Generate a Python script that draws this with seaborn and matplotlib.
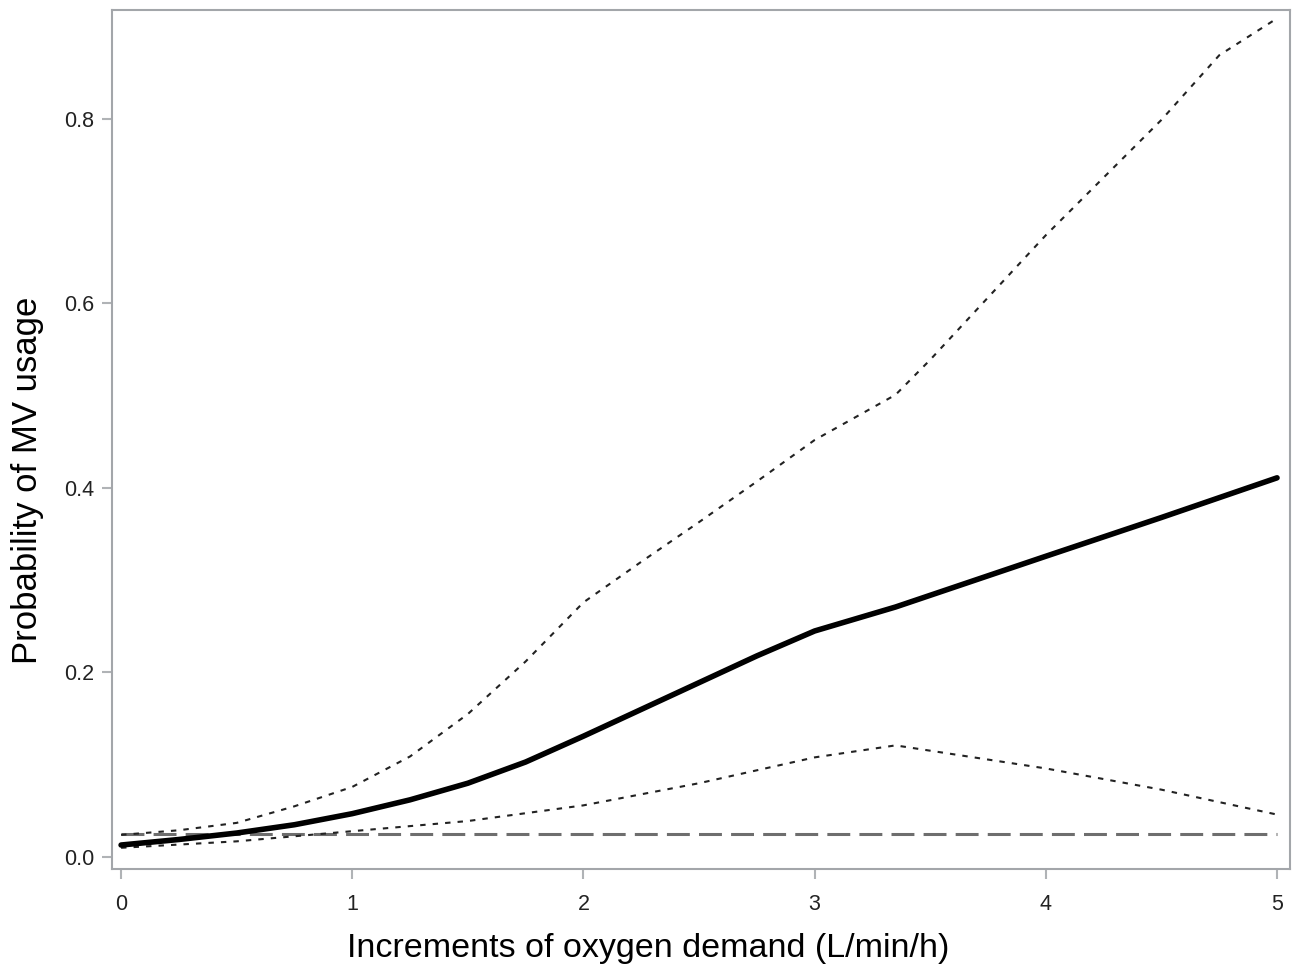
import numpy as np
import pandas as pd
import matplotlib
matplotlib.use("Agg")
import matplotlib.pyplot as plt
import seaborn as sns

# Data
x_est = [0.0, 0.25, 0.5, 0.75, 1.0, 1.25, 1.5, 1.75, 2.0, 2.25, 2.5, 2.75, 3.0, 3.35, 4.0, 4.5, 5.0]
y_est = [0.013, 0.019, 0.026, 0.035, 0.047, 0.062, 0.080, 0.103, 0.131, 0.160, 0.189, 0.218, 0.245, 0.271, 0.326, 0.368, 0.411]

x_upper = [0.0, 0.25, 0.5, 0.75, 1.0, 1.25, 1.5, 1.75, 2.0, 2.25, 2.5, 2.75, 3.0, 3.35, 3.5, 4.0, 4.5, 4.75, 5.0]
y_upper = [0.024, 0.029, 0.037, 0.055, 0.076, 0.109, 0.155, 0.212, 0.276, 0.320, 0.363, 0.407, 0.452, 0.501, 0.539, 0.674, 0.799, 0.869, 0.909]

x_lower = [0.0, 0.5, 1.0, 1.5, 2.0, 2.5, 3.0, 3.35, 4.0, 4.5, 5.0]
y_lower = [0.010, 0.017, 0.028, 0.039, 0.056, 0.080, 0.108, 0.121, 0.096, 0.073, 0.046]

x_ref = [0.0, 5.0]
y_ref = [0.025, 0.025]

x_ticks = [0, 1, 2, 3, 4, 5]
y_ticks = [0.0, 0.2, 0.4, 0.6, 0.8]
x_label = "Increments of oxygen demand (L/min/h)"
y_label = "Probability of MV usage"

sns.set_style("white")
plt.rcParams['font.family'] = ['Liberation Sans', 'DejaVu Sans']

fig = plt.figure(figsize=(12.97, 9.66), dpi=100)
ax = fig.add_axes([0.0864, 0.1004, 0.9082, 0.8892])

df_ref = pd.DataFrame({"x": x_ref, "y": y_ref})
df_lo = pd.DataFrame({"x": x_lower, "y": y_lower})
df_up = pd.DataFrame({"x": x_upper, "y": y_upper})
df_est = pd.DataFrame({"x": x_est, "y": y_est})

sns.lineplot(data=df_ref, x="x", y="y", ax=ax, color="#6e6e6e", linewidth=2.2)
ax.lines[-1].set_dashes((7.5, 3.0))
sns.lineplot(data=df_lo, x="x", y="y", ax=ax, color="#222222", linewidth=1.5)
ax.lines[-1].set_dashes((2.6, 3.4))
sns.lineplot(data=df_up, x="x", y="y", ax=ax, color="#222222", linewidth=1.5)
ax.lines[-1].set_dashes((2.6, 3.4))
sns.lineplot(data=df_est, x="x", y="y", ax=ax, color="black", linewidth=4.0)
for ln in ax.lines:
    ln.set_solid_joinstyle("round")
    ln.set_dash_joinstyle("round")

ax.set_xlim(-0.039, 5.056)
ax.set_ylim(-0.013, 0.918)
ax.set_xticks(x_ticks)
ax.set_xticklabels([str(v) for v in x_ticks])
ax.set_yticks(y_ticks)
ax.set_yticklabels([f"{v:.1f}" for v in y_ticks])

for s in ax.spines.values():
    s.set_color("#a3a6aa")
    s.set_linewidth(1.5)

ax.tick_params(axis="both", which="major", direction="out", length=7, width=1.5,
               color="#b0b3b6", labelsize=15.5, labelcolor="#222222", pad=6, bottom=True, left=True)
ax.tick_params(axis="x", pad=11)

ax.set_xlabel(x_label, fontsize=24.5, color="black")
ax.set_ylabel(y_label, fontsize=25, color="black")
ax.xaxis.set_label_coords(0.455, -0.075)
ax.yaxis.set_label_coords(-0.058, 0.452)

fig.savefig("out.png", dpi=100, facecolor="white")
